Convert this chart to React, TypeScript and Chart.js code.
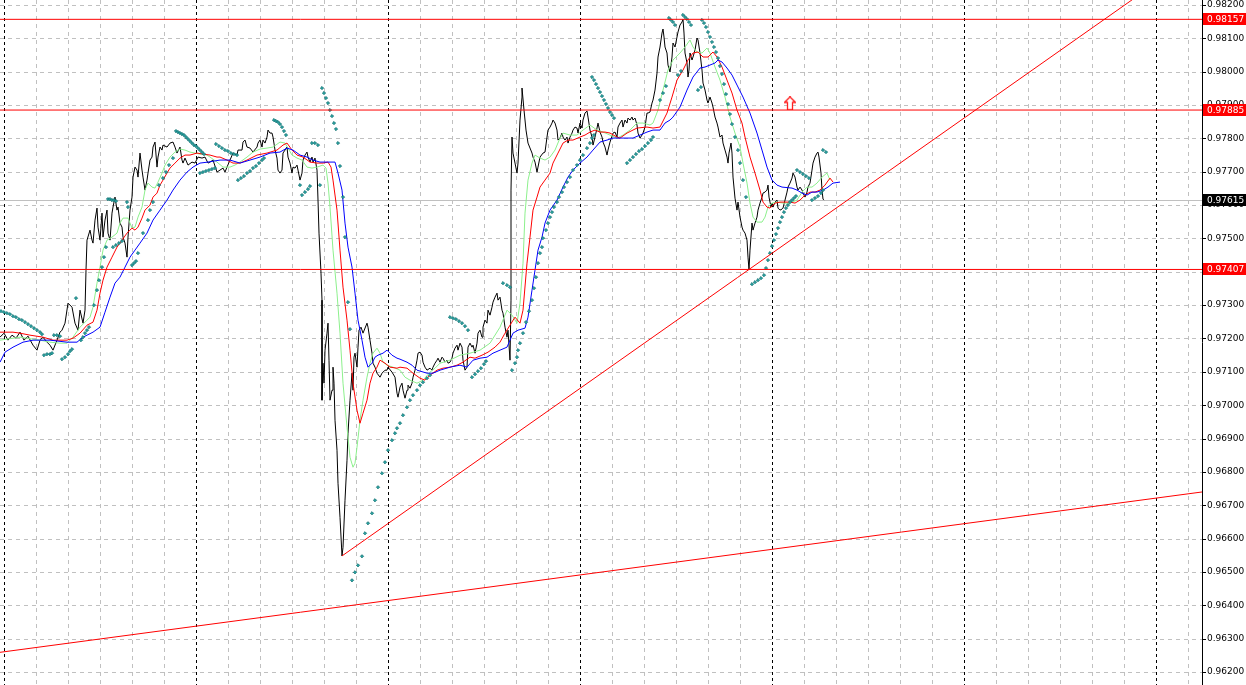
import React, { useEffect, useRef } from 'react';
import { Chart, registerables } from 'chart.js';
Chart.register(...registerables);

// ---- axis settings (bar index / price) ----
const X_MIN = 0;
const X_MAX = 601;
const Y_MIN = 0.96161;
const Y_MAX = 0.98215;
const sessionStart = 2;
const barsPerDay = 96;
const gridStep = 16;

const priceTicks = [
  0.962, 0.963, 0.964, 0.965, 0.966, 0.967, 0.968, 0.969, 0.97, 0.971, 0.972,
  0.973, 0.974, 0.975, 0.976, 0.977, 0.978, 0.979, 0.98, 0.981, 0.982,
];

// ---- price (close line) ----
const closeLine: [number, number][] = [
  [0,0.97204],[2,0.97216],[4,0.97195],[6,0.9721],[8,0.97201],[10,0.97219],[12,0.97195],[14,0.97207],[16.5,0.9718],[18.5,0.97165],
  [20,0.97195],[21.5,0.97204],[23.5,0.97189],[25,0.9718],[26.5,0.97165],[28.5,0.97195],[30,0.97219],[31,0.97225],[32.5,0.97246],[34,0.97306],
  [36,0.97294],[37.5,0.97246],[39,0.97225],[40,0.97285],[41.5,0.97246],[42.5,0.97285],[43,0.97405],[43.5,0.97495],[45,0.97525],[46,0.97495],
  [46.5,0.97486],[47.5,0.97555],[48.5,0.97591],[49,0.97534],[50,0.97495],[51,0.97576],[51.5,0.97504],[52.5,0.97555],[53.5,0.97585],[54,0.97516],
  [55,0.97495],[56,0.97576],[56.5,0.97594],[57.5,0.97624],[58.5,0.97585],[59,0.97594],[60,0.97546],[61,0.97534],[61.5,0.97504],[62.5,0.97486],
  [63.5,0.97444],[64,0.97504],[65,0.97585],[66,0.97624],[66.5,0.97684],[67.5,0.97714],[68.5,0.97705],[69,0.97684],[70,0.97756],[71,0.97705],
  [71.5,0.97684],[72.5,0.97645],[73.5,0.97675],[74,0.97696],[75,0.97735],[76,0.97744],[76.5,0.97774],[77.5,0.97789],[78.5,0.97714],[79,0.97744],
  [80,0.97774],[81,0.97765],[81.5,0.9778],[83.5,0.97774],[85,0.97786],[86.5,0.97789],[87.5,0.97774],[88.5,0.97756],[90,0.97774],[91,0.97735],
  [91.5,0.97726],[92.5,0.97741],[94,0.9772],[96,0.97729],[97.5,0.97726],[99,0.97744],[101,0.97741],[102.5,0.97744],[104,0.97726],[105,0.97729],
  [106.5,0.97735],[108.5,0.97699],[110,0.97705],[111.5,0.97711],[112.5,0.97699],[113.5,0.97714],[115,0.97735],[116.5,0.97756],[118.5,0.9775],[119,0.97765],
  [121,0.97765],[121.5,0.97789],[122.5,0.97795],[123.5,0.97774],[125,0.97771],[126.5,0.97759],[128.5,0.97774],[129,0.97786],[130,0.97795],[131,0.97774],
  [131.5,0.97795],[132.5,0.97786],[133.5,0.97804],[134,0.97825],[135,0.97816],[136,0.97816],[136.5,0.97804],[137.5,0.97765],[138.5,0.97741],[139,0.97705],
  [140,0.97696],[141,0.97705],[141.5,0.97756],[142.5,0.97765],[143.5,0.97774],[144,0.97744],[145,0.97726],[146,0.97696],[146.5,0.97714],[147.5,0.97711],
  [148.5,0.9772],[149,0.97705],[150,0.97675],[151,0.97696],[151.5,0.97735],[152.5,0.9775],[153.5,0.97759],[154,0.97744],[155,0.97729],[156,0.97744],
  [156.5,0.97729],[157.5,0.97741],[158.5,0.97705],[159,0.97615],[159.5,0.97516],[160.5,0.97396],[161,0.97315],[161,0.97015],[161.5,0.97126],[162,0.97066],
  [162.5,0.97165],[163.5,0.97216],[164,0.97246],[164.5,0.97135],[165,0.97015],[166,0.97045],[166.5,0.97114],[167,0.97066],[167.5,0.96955],[168.5,0.96865],
  [169,0.96766],[170,0.96664],[171,0.96548],[171.5,0.96574],[172.5,0.96715],[173.5,0.96835],[174,0.96916],[175,0.97015],[176,0.97096],[176.5,0.97045],
  [177,0.97144],[177.5,0.97156],[178.5,0.97114],[179,0.97174],[179.5,0.97225],[180.5,0.97234],[181.5,0.97216],[183.5,0.97246],[184,0.97234],[185,0.97195],
  [186,0.97156],[186.5,0.97126],[187.5,0.97114],[188.5,0.97096],[190,0.97084],[191,0.97096],[192.5,0.97105],[193.5,0.97105],[194,0.97114],[196,0.97099],
  [197.5,0.97084],[198.5,0.97036],[199,0.97024],[200,0.97054],[201,0.97066],[201.5,0.97045],[202.5,0.97021],[203.5,0.97045],[204,0.9706],[205,0.97051],
  [206,0.97066],[206.5,0.97084],[207.5,0.97105],[208.5,0.97135],[209,0.97156],[210,0.97159],[211,0.9715],[211.5,0.97129],[212.5,0.97114],[213.5,0.97105],
  [215,0.97111],[216,0.97105],[216.5,0.97114],[217.5,0.97126],[218.5,0.97135],[219,0.97141],[220,0.97129],[221,0.97144],[221.5,0.97141],[222.5,0.97129],
  [223.5,0.97135],[224,0.97126],[225,0.97129],[226,0.97141],[226.5,0.97156],[227.5,0.97171],[228.5,0.9718],[229,0.97165],[230,0.97186],[231,0.97174],
  [231.5,0.97135],[232.5,0.97105],[233.5,0.97114],[234,0.97174],[235,0.97186],[236,0.97174],[236.5,0.9718],[237.5,0.97156],[238.5,0.97186],[239,0.97216],
  [240,0.97225],[241,0.97204],[241.5,0.97234],[242.5,0.97255],[243.5,0.97246],[244,0.97285],[245,0.9727],[246,0.97294],[246.5,0.97309],[247.5,0.97324],
  [248.5,0.97336],[249,0.97315],[250,0.97324],[251,0.97285],[251.5,0.97276],[252.5,0.97234],[253.5,0.97204],[254,0.97225],[255,0.97135],[255.5,0.97315],
  [255.5,0.97645],[256,0.97804],[256.5,0.97756],[257.5,0.97726],[258.5,0.97696],[259,0.97726],[260,0.97855],[261,0.97924],[261,0.97951],[262,0.97885],
  [263,0.97825],[264,0.97786],[266,0.97756],[266.5,0.97744],[267.5,0.97729],[268.5,0.97699],[269,0.97714],[270,0.97744],[271.5,0.97756],[272.5,0.97759],
  [273.5,0.97804],[274,0.97825],[275,0.97834],[276,0.97846],[276.5,0.97855],[277.5,0.97846],[278.5,0.97825],[279,0.97795],[280,0.97801],[281,0.97816],
  [281.5,0.97804],[282.5,0.97795],[283.5,0.97804],[284,0.97786],[285,0.97804],[286,0.97816],[286.5,0.97825],[287.5,0.97834],[288.5,0.97831],[289,0.97816],
  [290,0.97846],[291,0.97831],[291.5,0.97855],[292.5,0.97876],[293.5,0.97882],[294,0.97864],[295,0.97825],[296,0.97804],[296.5,0.9778],[297.5,0.97804],
  [298.5,0.97831],[299,0.97846],[300,0.97819],[301,0.97804],[301.5,0.97789],[302.5,0.97774],[303.5,0.9775],[304,0.97765],[305,0.97789],[306.5,0.97816],
  [307.5,0.97819],[308.5,0.97804],[309,0.97834],[310,0.97846],[311,0.97855],[311.5,0.97834],[312.5,0.97855],[313.5,0.97846],[314,0.97861],[315,0.97855],
  [316,0.97864],[316.5,0.97855],[317.5,0.97861],[318.5,0.9784],[319,0.97816],[320,0.97801],[321,0.9781],[321.5,0.97816],[322.5,0.97834],[323.5,0.97876],
  [324,0.97876],[325,0.97879],[326,0.97906],[326.5,0.97915],[327.5,0.97945],[328.5,0.97996],[329,0.98044],[330,0.98074],[331,0.98116],[331.5,0.98128],
  [332,0.98104],[332.5,0.98074],[333.5,0.98056],[334,0.9802],[335,0.97999],[335.5,0.9802],[336,0.98044],[336.5,0.98086],[337.5,0.98074],[338.5,0.98104],
  [339,0.98119],[340,0.9814],[341,0.98149],[341.5,0.98157],[342,0.98116],[342.5,0.98056],[343.5,0.98026],[344,0.97984],[344.5,0.98005],[345,0.98056],
  [346,0.98035],[346.5,0.98044],[347.5,0.98065],[348.5,0.98101],[349,0.98095],[350,0.98056],[351,0.98005],[351.5,0.97966],[352.5,0.97945],[353.5,0.97915],
  [354,0.97906],[355,0.97924],[356,0.97906],[356.5,0.97894],[357.5,0.97864],[358.5,0.97846],[359,0.97834],[360,0.97804],[361,0.9781],[361.5,0.97786],
  [362.5,0.97765],[363.5,0.97744],[364,0.97726],[364.5,0.97756],[365.5,0.97786],[366,0.97756],[366.5,0.97684],[367.5,0.97621],[368.5,0.97585],[369,0.97609],
  [370,0.97564],[371,0.97534],[371.5,0.97525],[372.5,0.97516],[373.5,0.97495],[374,0.97444],[374.5,0.97407],[375,0.97465],[376,0.97546],[376.5,0.97525],
  [377.5,0.97546],[378.5,0.97564],[379,0.97585],[380,0.97606],[381,0.97624],[381.5,0.97636],[382.5,0.97639],[383.5,0.97645],[384,0.9766],[384.5,0.97624],
  [385.5,0.97594],[386,0.97606],[386.5,0.97594],[387.5,0.97609],[388.5,0.97615],[389,0.97591],[390,0.97585],[391,0.97588],[391.5,0.97591],[392.5,0.97615],
  [393.5,0.97639],[394,0.97654],[395,0.97666],[396,0.97681],[396.5,0.97696],[397.5,0.97684],[398.5,0.97654],[399,0.97645],[400,0.97654],[401,0.97645],
  [401.5,0.97636],[402.5,0.97624],[403.5,0.97639],[404,0.97654],[405,0.97666],[406,0.97705],[406.5,0.97726],[407.5,0.97744],[408.5,0.97756],[409,0.97759],
  [409.5,0.97744],[410.5,0.97696],[411,0.97645],[411.5,0.97618],[412,0.97615],
];

// ---- Alligator: lips (green), teeth (red), jaw (blue) ----
const lipsLine: [number, number][] = [
  [0,0.97195],[10,0.97204],[20,0.97195],[25,0.97189],[30,0.97186],[33.5,0.97186],[36.5,0.97204],[40,0.97234],[43.5,0.97255],[45,0.97264],
  [46.5,0.97294],[48.5,0.97366],[50,0.97414],[51.5,0.97465],[53.5,0.97495],[56,0.97504],[58.5,0.97516],[60,0.97546],[61.5,0.97561],[64,0.97561],
  [66,0.97531],[67.5,0.97534],[69,0.97564],[71,0.97594],[72.5,0.97645],[74,0.97666],[76,0.97654],[77.5,0.97651],[79,0.97669],[81,0.97696],
  [82.5,0.9772],[85,0.97744],[87.5,0.97759],[90,0.97768],[92.5,0.97765],[95,0.97759],[97.5,0.97756],[100,0.97753],[103.5,0.9775],[105,0.97744],
  [108.5,0.97729],[111.5,0.97714],[115,0.97714],[117.5,0.9772],[120,0.97729],[123.5,0.97744],[126.5,0.97759],[130,0.97768],[133.5,0.97771],[136.5,0.97774],
  [140,0.97789],[142.5,0.97786],[144,0.97771],[146,0.9775],[148.5,0.97741],[151,0.97735],[153.5,0.97714],[156,0.97711],[158.5,0.97714],[161.5,0.9772],
  [163,0.97711],[164,0.97666],[165,0.97594],[166.5,0.97465],[168.5,0.97336],[170,0.97216],[171.5,0.97066],[173.5,0.96934],[175,0.96844],[176.5,0.96814],
  [177.5,0.96826],[178.5,0.96874],[180,0.96955],[181.5,0.97015],[183.5,0.97084],[185,0.97126],[186.5,0.97156],[188.5,0.97171],[190,0.97156],[191.5,0.97129],
  [193.5,0.9712],[196.5,0.97114],[200,0.97105],[202.5,0.97084],[205,0.97075],[208.5,0.97066],[211.5,0.97075],[215,0.97099],[217.5,0.97111],[220,0.97126],
  [225,0.97135],[230,0.9715],[235,0.97156],[240,0.97165],[245,0.97186],[250,0.97234],[253.5,0.97285],[256,0.9727],[258.5,0.97246],[260,0.97306],
  [261.5,0.97426],[262.5,0.97576],[264,0.97675],[266,0.97726],[267.5,0.9775],[270,0.97741],[272.5,0.97735],[275,0.97744],[277.5,0.97765],[280,0.97801],
  [281.5,0.97816],[285,0.9781],[288.5,0.9781],[291.5,0.97825],[295,0.9784],[298.5,0.97825],[301.5,0.97819],[305,0.9781],[308.5,0.97801],[311.5,0.9781],
  [315,0.97825],[318.5,0.97846],[321.5,0.97846],[325,0.9784],[326.5,0.97846],[329,0.97885],[331.5,0.97945],[334,0.98005],[336.5,0.98035],[340,0.98056],
  [342.5,0.98074],[345,0.98095],[346.5,0.98074],[348.5,0.98059],[351,0.98056],[353.5,0.98071],[355,0.98056],[357.5,0.98014],[360,0.97975],[362.5,0.97924],
  [365,0.97864],[367.5,0.97816],[370,0.97774],[371.5,0.97726],[373.5,0.97666],[375,0.97606],[376.5,0.97564],[378.5,0.97549],[381,0.97549],[382.5,0.97564],
  [384,0.97594],[386,0.97606],[388.5,0.97609],[391.5,0.97606],[395,0.97606],[398.5,0.97615],[401,0.97639],[403.5,0.97654],[406,0.97654],[408.5,0.97666],
  [411,0.97684],[413.5,0.97696],[415,0.97675],
];

const teethLine: [number, number][] = [
  [0,0.97219],[6.5,0.97219],[10,0.97216],[15,0.9721],[21.5,0.97204],[26.5,0.97195],[33.5,0.97195],[36.5,0.97201],[40,0.97216],[43.5,0.9724],
  [46.5,0.97249],[48.5,0.97285],[50,0.97336],[51.5,0.97375],[53.5,0.97414],[56,0.97444],[58.5,0.97474],[61,0.97495],[63.5,0.97516],[66,0.97531],
  [67.5,0.97525],[69,0.97534],[71,0.97561],[72.5,0.97585],[75,0.976],[76.5,0.97624],[78.5,0.97636],[80,0.9766],[81.5,0.97675],[83.5,0.97696],
  [85,0.97711],[87.5,0.97726],[90,0.97741],[92.5,0.9775],[95,0.9775],[98.5,0.97756],[101.5,0.97753],[105,0.9775],[108.5,0.97744],[110,0.97744],
  [113.5,0.97735],[116.5,0.97726],[120,0.97726],[123.5,0.97735],[128.5,0.9775],[133.5,0.97756],[138.5,0.97765],[141.5,0.9778],[143.5,0.97786],[146,0.97765],
  [148.5,0.9775],[151.5,0.97744],[155,0.97729],[158.5,0.97726],[161.5,0.97726],[164,0.97729],[165.5,0.97714],[166.5,0.97675],[168.5,0.97585],[170,0.97465],
  [171.5,0.97354],[173.5,0.97255],[175,0.97165],[176.5,0.97066],[178.5,0.96985],[180,0.96946],[181.5,0.96976],[183.5,0.97015],[185,0.97066],[186.5,0.97096],
  [188.5,0.97114],[190,0.97135],[192.5,0.97126],[195,0.97114],[198.5,0.97111],[200,0.97114],[203.5,0.97111],[206.5,0.97096],[210,0.97081],[212.5,0.97075],
  [215,0.9709],[218.5,0.97105],[221.5,0.97111],[225,0.97114],[228.5,0.9712],[231.5,0.97129],[235,0.97144],[237.5,0.97141],[241,0.9715],[244,0.97159],
  [247.5,0.97174],[250,0.97189],[252.5,0.97216],[255,0.9724],[257.5,0.97264],[260,0.97246],[261.5,0.97285],[263.5,0.97426],[265,0.97504],[266.5,0.97585],
  [268.5,0.97624],[270,0.97654],[272.5,0.97675],[275,0.97696],[276.5,0.97726],[279,0.97756],[281.5,0.97786],[284,0.97795],[286.5,0.97795],[290,0.97804],
  [292.5,0.9781],[295,0.97819],[297.5,0.97825],[300,0.97819],[302.5,0.97819],[305,0.97816],[308.5,0.97804],[310,0.97801],[313.5,0.97816],[318.5,0.97831],
  [323.5,0.97834],[326.5,0.97831],[330,0.97834],[333.5,0.97876],[336,0.97924],[338.5,0.97975],[341.5,0.98005],[344,0.98035],[346.5,0.98056],[349,0.98059],
  [351.5,0.98044],[354,0.98044],[356.5,0.98059],[358.5,0.98044],[361,0.98014],[363.5,0.97975],[366,0.97936],[368.5,0.97885],[371,0.97846],[372.5,0.97804],
  [375,0.97744],[377.5,0.97696],[380,0.97645],[381.5,0.97609],[383.5,0.97594],[385,0.97591],[387.5,0.97606],[390,0.97609],[395,0.97609],[397.5,0.97606],
  [400,0.97615],[402.5,0.9763],[405,0.97639],[407.5,0.97639],[410,0.97645],[412.5,0.9766],[415,0.97681],[416.5,0.97669],
];

const jawLine: [number, number][] = [
  [0,0.97129],[2.5,0.97159],[6.5,0.97174],[11.5,0.97189],[16.5,0.97195],[25,0.97195],[33.5,0.97189],[38.5,0.97189],[41.5,0.97204],[46.5,0.97219],
  [50,0.97234],[52.5,0.97279],[55,0.97324],[57.5,0.97366],[60,0.97384],[62.5,0.97414],[65,0.97444],[67.5,0.97465],[70,0.97486],[73.5,0.97516],
  [76.5,0.97555],[80,0.97585],[83.5,0.97615],[86.5,0.97645],[90,0.97675],[93.5,0.97699],[96.5,0.97714],[100,0.97726],[104,0.97729],[110,0.97735],
  [115,0.97735],[120,0.97726],[125,0.97735],[130,0.97744],[135,0.97756],[140,0.97759],[143.5,0.97771],[146.5,0.97765],[150,0.9775],[153.5,0.97744],
  [156.5,0.97735],[160,0.97729],[164,0.97729],[167.5,0.97729],[169,0.97696],[171,0.97645],[172.5,0.97546],[174,0.97474],[176,0.97414],[177.5,0.97336],
  [179,0.97255],[181,0.97195],[182.5,0.97144],[184,0.97114],[186,0.97126],[187.5,0.97144],[189,0.9715],[191.5,0.97156],[193.5,0.97165],[196,0.9715],
  [198.5,0.97141],[200,0.97138],[203.5,0.97129],[206,0.9712],[208.5,0.97105],[213.5,0.97096],[216.5,0.97096],[220,0.97105],[225,0.97114],[230,0.9712],
  [233.5,0.97114],[236.5,0.97135],[240,0.97141],[243.5,0.97144],[246.5,0.97156],[250,0.97165],[253.5,0.97174],[256.5,0.97216],[259,0.97225],[262.5,0.97231],
  [264,0.97264],[266,0.97345],[267.5,0.97405],[269,0.97465],[271,0.97504],[272.5,0.97546],[275,0.97585],[278.5,0.97615],[281.5,0.97654],[284,0.97684],
  [286.5,0.97705],[290,0.97726],[293.5,0.97744],[296.5,0.97765],[300,0.97789],[303.5,0.97795],[306.5,0.97801],[310,0.97801],[313.5,0.97801],[316.5,0.97801],
  [320,0.9781],[323.5,0.97819],[326.5,0.97825],[330,0.97825],[332.5,0.97846],[335,0.97855],[336.5,0.97864],[340,0.97894],[343.5,0.97945],[346.5,0.97984],
  [350,0.98011],[352.5,0.98014],[355,0.9802],[357.5,0.98026],[359,0.98035],[361,0.98029],[363.5,0.98011],[366,0.9799],[368.5,0.9796],[371.5,0.97924],
  [375,0.97876],[378.5,0.97816],[381,0.97765],[383.5,0.97714],[386,0.97675],[388.5,0.9766],[391,0.97654],[396,0.97651],[398.5,0.97645],[401,0.97636],
  [403.5,0.9763],[406,0.97639],[408.5,0.97639],[411.5,0.97645],[414,0.97654],[416.5,0.97666],[420,0.97669],
];

// ---- Parabolic SAR dots ----
const sarDots: [number, number][] = [
  [0.5,0.97282],[2,0.97279],[3.5,0.97276],[5,0.97273],[6.5,0.97267],[8,0.97264],[9.5,0.97258],[11,0.97255],[12.5,0.97249],[14,0.97243],
  [15.5,0.97237],[17,0.97231],[18.5,0.97225],[20,0.97219],[21,0.97213],
  [22,0.9715],[23.5,0.97153],[25,0.97153],[26,0.97156],
  [27,0.9721],[28.5,0.9721],[30,0.97207],
  [31,0.97138],[32.5,0.97144],[34,0.97153],[35,0.97162],[36,0.97168],
  [38,0.97321],
  [40.5,0.97195],[41.5,0.97204],[42.5,0.97216],[43.5,0.97225],[44.5,0.97234],
  [47,0.973],[48.5,0.97345],[49.5,0.97375],[51,0.97414],[52,0.97444],[53,0.97474],
  [54,0.97618],[55,0.97618],[56,0.97615],[57,0.97615],[58,0.97612],
  [56.5,0.97474],[58,0.9748],[59.5,0.97486],[61,0.97492],
  [63.5,0.97609],[64,0.97594],
  [66,0.9742],[67,0.97426],[68,0.97432],[69,0.97456],[71.5,0.97516],[74,0.97555],[75,0.97585],[76.5,0.97609],[79.5,0.9766],[81.5,0.97681],
  [83,0.97699],[84.5,0.9772],[86.5,0.97741],
  [88,0.97822],[89,0.97819],[90,0.97816],[91,0.97813],[92,0.9781],[93,0.97804],[94,0.97798],[95,0.97792],[96,0.97786],[97,0.9778],
  [98,0.97777],[99,0.97771],[100,0.97765],[101,0.97759],[102,0.97753],
  [100,0.97696],[101.5,0.97699],[103,0.97702],[104.5,0.97705],[106,0.97708],[107.5,0.97711],
  [108,0.97783],[109.5,0.97777],[111,0.97771],[112.5,0.97765],[114,0.97762],[115.5,0.97756],[117,0.97753],[118.5,0.9775],
  [119,0.97675],[120.5,0.97681],[122,0.97687],[123.5,0.97696],[125,0.97702],[126.5,0.97711],[128,0.97717],[129.5,0.97726],[131,0.97735],[132,0.97741],
  [137,0.97855],[138,0.97852],[139,0.97849],[140,0.97843],[141,0.97834],[142,0.97822],[143,0.9781],
  [150,0.9766],[151,0.9763],[152.5,0.97639],[154,0.97648],[155,0.97657],
  [156,0.97786],[157.5,0.97786],[159,0.9778],
  [160,0.9766],
  [161,0.97951],[162,0.97936],[163,0.97921],[164,0.97906],[165,0.97885],[166,0.97867],[167,0.97846],[168,0.97828],[169,0.97786],[170,0.97717],
  [171.5,0.97624],[172.5,0.97504],[174,0.97309],[175,0.97228],
  [176,0.96475],[177.5,0.96499],[179,0.9652],[181,0.96547],[182.5,0.96616],[184,0.96646],[186,0.96676],[187.5,0.96715],[189,0.96754],[191,0.96796],
  [192.5,0.96829],[194,0.96865],[196,0.96895],[197.5,0.96916],[198.5,0.96931],[200,0.96946],[201.5,0.9697],[203.5,0.96994],[205,0.97015],[206.5,0.9703],
  [208.5,0.97045],[210,0.9706],[211.5,0.97069],[213.5,0.97081],[215,0.9709],
  [225,0.97264],[226.5,0.97261],[228,0.97258],[229.5,0.97252],[231,0.97246],[232.5,0.97237],[234,0.97225],
  [236,0.97084],[237.5,0.97093],[239,0.97102],[240.5,0.97111],[242,0.97123],[243,0.97132],
  [251.5,0.97366],[253.5,0.9736],[255,0.97354],
  [256,0.97105],[257.5,0.97126],[258.5,0.97144],[259,0.97165],[260,0.97186],[261.5,0.97216],[263,0.97249],[264.5,0.97282],[266,0.97315],[267,0.97351],
  [268,0.97384],[269,0.97426],[270,0.97456],[271,0.97474],[271.5,0.97501],[273,0.97525],[274,0.97546],[275,0.97564],[276,0.97579],[277,0.97594],
  [278.5,0.97609],[279.5,0.97624],[281,0.97639],[282,0.97654],[283.5,0.97669],[285,0.97684],[286.5,0.97705],[288.5,0.9772],[290,0.97735],[291.5,0.9775],
  [293.5,0.97771],[295,0.97786],[296,0.97801],[297,0.9781],
  [296,0.97984],[297,0.97975],[298,0.97963],[299,0.97951],[300,0.97939],[301,0.97927],[302,0.97915],[303,0.97903],[304,0.97891],[305,0.97879],
  [306,0.9787],[307,0.97861],
  [313.5,0.97726],[315,0.97735],[316.5,0.97744],[318,0.97753],[319.5,0.97762],[321,0.97768],[322.5,0.97777],[324,0.97786],[325.5,0.97795],[326.5,0.97804],
  [330,0.97915],[331.5,0.97936],[333,0.97957],[339,0.9799],[340.5,0.98002],[349,0.97945],[350.5,0.97954],
  [334.5,0.98161],[335.5,0.98155],[336.5,0.98149],[337.5,0.9814],
  [341.5,0.9817],[342.5,0.98164],[343.5,0.98158],[344.5,0.98149],[345.5,0.9814],
  [351,0.98155],[352,0.98146],[353,0.98134],[354,0.98119],[355,0.98104],[356,0.98089],[357,0.98074],[358,0.98059],[359,0.98041],[360,0.98017],
  [361,0.97993],[362,0.97963],[363,0.97933],[364,0.97903],[365,0.97873],[366,0.97843],[367.5,0.97804],[369,0.97765],[370,0.97726],[371.5,0.97675],
  [373,0.97624],
  [376,0.97363],[377.5,0.97369],[379,0.97375],[380.5,0.97381],[382,0.9739],[383,0.97411],[384,0.97435],[385,0.97456],[386,0.97477],[387,0.97495],
  [388,0.97513],[389,0.97531],[390,0.97549],[391,0.97564],[392,0.97579],[393,0.97591],[394,0.976],[395,0.97609],[396,0.97615],[397,0.97621],
  [398,0.97627],
  [398.5,0.97705],[400,0.97699],[401.5,0.97693],[403,0.97687],[404.5,0.97681],
  [406,0.97615],[407.5,0.97621],[409,0.97627],[410.5,0.97636],[411.5,0.97645],
  [411.5,0.97765],[413,0.97759],
];

// ---- objects ----
const levelPrices = [0.98157, 0.97885, 0.97407];
const bidPrice = 0.97615;
const trendRising: [number, number][] = [[171, 0.96548], [374.5, 0.97407]];
const trendLower: [number, number][] = [[0, 0.96259], [600, 0.96739]];
const buyArrow: [number, number][] = [[395, 0.97905]];

const toXY = (arr: [number, number][]) => arr.map(([x, y]) => ({ x, y }));
const ray = (a: [number, number][], xEnd: number) => {
  const [[x1, y1], [x2, y2]] = a;
  const k = (y2 - y1) / (x2 - x1);
  return [{ x: x1, y: y1 }, { x: xEnd, y: y1 + k * (xEnd - x1) }];
};

const AXIS_FONT = '9px "DejaVu Sans"';

function makeArrow(): HTMLCanvasElement {
  const c = document.createElement('canvas');
  c.width = 12;
  c.height = 14;
  const g = c.getContext('2d')!;
  g.beginPath();
  g.moveTo(6, 0.5);
  g.lineTo(11.5, 6);
  g.lineTo(8.5, 6);
  g.lineTo(8.5, 13.5);
  g.lineTo(3.5, 13.5);
  g.lineTo(3.5, 6);
  g.lineTo(0.5, 6);
  g.closePath();
  g.fillStyle = '#ffffff';
  g.fill();
  g.strokeStyle = '#ff2020';
  g.lineWidth = 1.3;
  g.stroke();
  return c;
}

const mt4Plugin = {
  id: 'mt4look',
  beforeDatasetsDraw(chart: any) {
    const { ctx, chartArea: a } = chart;
    const xs = chart.scales.x;
    const ys = chart.scales.y;
    ctx.save();
    ctx.lineWidth = 1;
    ctx.strokeStyle = '#c0c0c0';
    ctx.setLineDash([4, 4]);
    for (const v of priceTicks) {
      const py = Math.round(ys.getPixelForValue(v)) + 0.5;
      ctx.beginPath();
      ctx.moveTo(a.left, py);
      ctx.lineTo(a.right, py);
      ctx.stroke();
    }
    for (let t = sessionStart; t <= X_MAX; t += gridStep) {
      const px = Math.round(xs.getPixelForValue(t)) + 0.5;
      const sep = (t - sessionStart) % barsPerDay === 0;
      ctx.strokeStyle = sep ? '#000000' : '#c0c0c0';
      ctx.setLineDash(sep ? [3, 3] : [4, 4]);
      ctx.beginPath();
      ctx.moveTo(px, a.top);
      ctx.lineTo(px, a.bottom);
      ctx.stroke();
    }
    ctx.setLineDash([]);
    ctx.strokeStyle = '#c0c0c0';
    const by = Math.round(ys.getPixelForValue(bidPrice)) + 0.5;
    ctx.beginPath();
    ctx.moveTo(a.left, by);
    ctx.lineTo(a.right, by);
    ctx.stroke();
    ctx.restore();
  },
  afterDraw(chart: any) {
    const { ctx, chartArea: a, width, height } = chart;
    const ys = chart.scales.y;
    ctx.save();
    ctx.strokeStyle = '#000000';
    ctx.lineWidth = 1;
    ctx.beginPath();
    ctx.moveTo(a.right + 0.5, 0);
    ctx.lineTo(a.right + 0.5, height);
    for (const v of priceTicks) {
      const py = Math.round(ys.getPixelForValue(v)) + 0.5;
      ctx.moveTo(a.right, py);
      ctx.lineTo(a.right + 4, py);
    }
    ctx.stroke();
    const boxes = [
      ...levelPrices.map((p) => ({ p, bg: '#ff0000' })),
      { p: bidPrice, bg: '#000000' },
    ];
    ctx.font = AXIS_FONT;
    ctx.textBaseline = 'middle';
    ctx.textAlign = 'left';
    for (const b of boxes) {
      const py = Math.round(ys.getPixelForValue(b.p));
      ctx.fillStyle = b.bg;
      ctx.fillRect(a.right + 1, py - 6, width - a.right - 1, 12);
      ctx.fillStyle = '#ffffff';
      ctx.fillText(b.p.toFixed(5), a.right + 5, py + 0.5);
    }
    ctx.restore();
  },
};

export default function App() {
  const ref = useRef<HTMLCanvasElement | null>(null);
  useEffect(() => {
    document.body.style.margin = '0';
    const canvas = ref.current!;
    const arrowImg = makeArrow();
    const line = (label: string, data: any[], color: string, width = 1) => ({
      type: 'line',
      label,
      data,
      borderColor: color,
      backgroundColor: color,
      borderWidth: width,
      pointRadius: 0,
      fill: false,
      tension: 0,
    });
    const datasets: any[] = [
      ...levelPrices.map((p, i) =>
        line('level' + i, [{ x: X_MIN, y: p }, { x: X_MAX, y: p }], '#ff0000')
      ),
      line('trend rising', ray(trendRising, X_MAX), '#ff0000'),
      line('trend lower', ray(trendLower, X_MAX), '#ff0000'),
      {
        type: 'line',
        label: 'buy arrow',
        data: toXY(buyArrow),
        showLine: false,
        pointStyle: arrowImg,
        pointRadius: 6,
      },
      {
        type: 'line',
        label: 'SAR',
        data: toXY(sarDots),
        showLine: false,
        pointStyle: 'rectRot',
        pointRadius: 1.6,
        pointBorderWidth: 0.8,
        pointBackgroundColor: '#2aa6a6',
        pointBorderColor: '#0a6a6a',
      },
      line('jaw', toXY(jawLine), '#0000ff'),
      line('teeth', toXY(teethLine), '#ff0000'),
      line('lips', toXY(lipsLine), '#8cf08c'),
      line('close', toXY(closeLine), '#000000'),
    ];
    const chart = new Chart(canvas, {
      type: 'line',
      data: { datasets },
      options: {
        animation: false,
        responsive: false,
        devicePixelRatio: 1,
        events: [],
        layout: { padding: 0, autoPadding: false },
        plugins: { legend: { display: false }, tooltip: { enabled: false }, title: { display: false } },
        scales: {
          x: { type: 'linear', min: X_MIN, max: X_MAX, display: false },
          y: {
            type: 'linear',
            position: 'right',
            min: Y_MIN,
            max: Y_MAX,
            afterBuildTicks: (s: any) => {
              s.ticks = priceTicks.map((value) => ({ value }));
            },
            afterFit: (s: any) => {
              s.width = 44;
              s.paddingTop = 0;
              s.paddingBottom = 0;
            },
            grid: { display: false, drawTicks: false },
            border: { display: false },
            ticks: {
              autoSkip: false,
              padding: 5,
              color: '#000000',
              font: { family: 'DejaVu Sans', size: 9 },
              callback: (v: any) => Number(v).toFixed(5),
            },
          },
        },
      } as any,
      plugins: [mt4Plugin],
    } as any);
    return () => chart.destroy();
  }, []);
  return (
    <div style={{ width: 1246, height: 685, background: '#ffffff' }}>
      <canvas ref={ref} width={1246} height={685} style={{ display: 'block' }} />
    </div>
  );
}
